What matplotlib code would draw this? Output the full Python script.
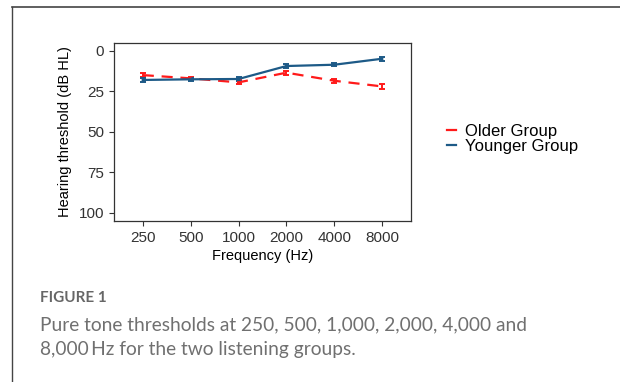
import numpy as np
import matplotlib
matplotlib.use('Agg')
import matplotlib.pyplot as plt
from matplotlib.lines import Line2D

freqs = ['250', '500', '1000', '2000', '4000', '8000']
older = [15.0, 17.0, 19.5, 13.5, 18.5, 22.0]
older_err = [1.2, 1.0, 1.2, 1.2, 1.2, 1.5]
younger = [18.0, 17.6, 17.4, 9.4, 8.6, 4.9]
younger_err = [1.2, 1.0, 1.0, 1.0, 1.0, 1.3]

red = '#ff1a1a'
blue = '#1d5a87'

fig = plt.figure(figsize=(6.2, 3.82), dpi=100)
fig.patch.set_facecolor('white')

# page frame lines (top and left)
fig.add_artist(Line2D([12 / 620, 1.0], [1 - 7 / 382, 1 - 7 / 382], color='#444444', lw=1.2))
fig.add_artist(Line2D([12 / 620, 12 / 620], [0, 1 - 7 / 382], color='#444444', lw=1.0))

ax = fig.add_axes([114 / 620, 1 - 221 / 382, 297 / 620, 178 / 382])
x = np.arange(len(freqs))

ax.errorbar(x, older, yerr=older_err, color=red, lw=1.6, ls=(0, (5, 3.5)),
            capsize=2.5, elinewidth=1.4, capthick=1.4)
ax.errorbar(x, younger, yerr=younger_err, color=blue, lw=1.6,
            capsize=2.5, elinewidth=1.4, capthick=1.4)

ax.set_xlim(-0.6, 5.6)
ax.set_ylim(105, -4.8)
ax.set_xticks(x)
ax.set_xticklabels(freqs)
ax.set_yticks([0, 25, 50, 75, 100])
ax.tick_params(labelsize=11, colors='#333333', length=3.5, width=0.8,
               labelcolor='#333333')
for s in ax.spines.values():
    s.set_color('#333333')
    s.set_linewidth(0.9)
for t in ax.get_xticklabels() + ax.get_yticklabels():
    t.set_family('Liberation Sans')

ax.set_xlabel('Frequency (Hz)', fontsize=10.5, family='Liberation Sans', labelpad=3)
ax.set_ylabel('Hearing threshold (dB HL)', fontsize=10.5, family='Liberation Sans', labelpad=5)

handles = [Line2D([], [], color=red, lw=1.6), Line2D([], [], color=blue, lw=1.6)]
fig.legend(handles, ['Older Group', 'Younger Group'], loc='upper left',
           bbox_to_anchor=(432 / 620, 1 - 109 / 382), frameon=False,
           handlelength=0.55, handletextpad=0.55, labelspacing=0.0,
           prop={'family': 'Liberation Sans', 'size': 12})

fig.text(40 / 620, 1 - 298 / 382, 'FIGURE 1', fontsize=11, color='#666666',
         family='Lato', weight='bold', va='center')
fig.text(40 / 620, 1 - 325 / 382, 'Pure tone thresholds at 250, 500, 1,000, 2,000, 4,000 and',
         fontsize=13.8, color='#707070', family='Lato', va='center')
fig.text(40 / 620, 1 - 350 / 382, '8,000\u2009Hz for the two listening groups.',
         fontsize=13.8, color='#707070', family='Lato', va='center')

fig.savefig('out.png', dpi=100)
